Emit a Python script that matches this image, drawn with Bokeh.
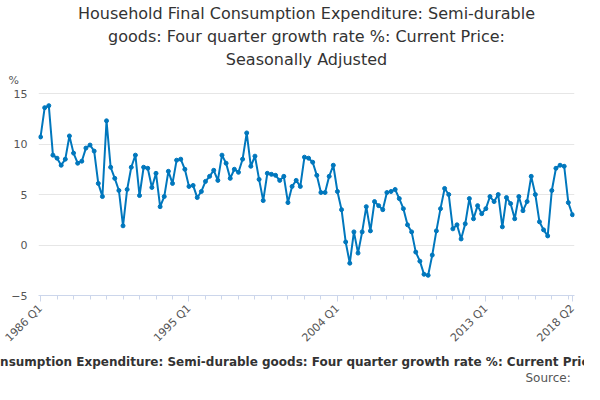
import math
from bokeh.plotting import figure
from bokeh.models import Title, FixedTicker, Range1d
from bokeh.embed import file_html
from bokeh.resources import INLINE

values = [10.7, 13.6, 13.8, 8.9, 8.6, 7.9, 8.5, 10.8, 9.1, 8.1, 8.3, 9.6,
          9.9, 9.3, 6.1, 4.8, 12.3, 7.7, 6.6, 5.4, 1.9, 5.5, 7.7, 8.9,
          4.9, 7.7, 7.6, 5.7, 7.1, 3.8, 4.8, 7.3, 6.1, 8.4, 8.5, 7.5,
          5.8, 5.9, 4.7, 5.3, 6.3, 6.8, 7.4, 6.4, 8.9, 8.1, 6.6, 7.5,
          7.2, 8.5, 11.1, 7.8, 8.8, 6.5, 4.4, 7.1, 7.0, 6.9, 6.4, 6.8,
          4.2, 5.8, 6.4, 5.8, 8.7, 8.6, 8.2, 6.9, 5.2, 5.2, 6.8, 7.9,
          5.3, 3.5, 0.3, -1.8, 1.3, -0.8, 1.3, 3.8, 1.4, 4.3, 3.9, 3.5,
          5.2, 5.3, 5.5, 4.6, 3.6, 2.0, 1.3, -0.7, -1.6, -2.9, -3.0, -1.0,
          1.4, 3.6, 5.6, 5.0, 1.6, 2.0, 0.6, 2.1, 4.6, 2.6, 3.9, 3.1,
          3.6, 4.8, 4.3, 5.0, 1.8, 4.7, 4.1, 2.6, 4.8, 3.4, 4.3, 6.8,
          5.0, 2.3, 1.5, 0.9, 5.4, 7.6, 7.9, 7.8, 4.2, 3.0]
quarters = [f"{1986 + i // 4} Q{i % 4 + 1}" for i in range(len(values))]
tick_labels = ["1986 Q1", "1995 Q1", "2004 Q1", "2013 Q1", "2018 Q2"]
y_ticks = [-5, 0, 5, 10, 15]

xs = list(range(len(values)))
tick_pos = [quarters.index(t) for t in tick_labels]

p = figure(width=584, height=384, output_backend="svg", toolbar_location=None,
           x_range=Range1d(-0.5, len(values) - 0.5), y_range=Range1d(-5, 15.5),
           min_border_left=38, min_border_right=10, min_border_top=4,
           min_border_bottom=0)
p.title = None
p.outline_line_color = None
p.background_fill_color = "white"
p.border_fill_color = "white"

p.line(xs, values, line_color="#0077bd", line_width=2)
p.scatter(xs, values, size=4, color="#0077bd")

p.xaxis.ticker = FixedTicker(ticks=tick_pos,
                             minor_ticks=[quarters.index(f"{y} Q1") for y in range(1987, 2019)])
p.xaxis.major_label_overrides = {pos: lab for pos, lab in zip(tick_pos, tick_labels)}
p.xaxis.major_label_orientation = math.pi / 4
p.xaxis.major_label_text_font = "DejaVu Sans"
p.xaxis.major_label_text_font_size = "11px"
p.xaxis.major_label_text_color = "#555555"
p.xaxis.axis_line_color = "#ccd6eb"
p.xaxis.major_tick_line_color = "#ccd6eb"
p.xaxis.minor_tick_line_color = "#ccd6eb"
p.xaxis.major_tick_out = 6
p.xaxis.minor_tick_out = 4
p.xaxis.major_tick_in = 0
p.xaxis.minor_tick_in = 0
p.xgrid.grid_line_color = None

p.yaxis.ticker = FixedTicker(ticks=y_ticks)
p.yaxis.axis_line_color = None
p.yaxis.major_tick_line_color = None
p.yaxis.minor_tick_line_color = None
p.yaxis.major_label_text_font = "DejaVu Sans"
p.yaxis.major_label_text_font_size = "11px"
p.yaxis.major_label_text_color = "#555555"
p.ygrid.grid_line_color = "#e6e6e6"

p.add_layout(Title(text="%", align="left", text_font="DejaVu Sans",
                   text_font_size="11px", text_color="#555555",
                   text_font_style="normal", offset=-30, standoff=4), "above")
for line in ["Seasonally Adjusted",
             "goods: Four quarter growth rate %: Current Price:",
             "Household Final Consumption Expenditure: Semi-durable"]:
    p.add_layout(Title(text=line, align="center", text_font="DejaVu Sans",
                       text_font_size="16px", text_color="#333333",
                       text_font_style="normal", standoff=2), "above")

p.add_layout(Title(text="Household Final Consumption Expenditure: Semi-durable goods: Four quarter growth rate %: Current Price: Seasonally Adjusted",
                   align="center", text_font="DejaVu Sans", text_font_size="12px",
                   text_color="#333333", text_font_style="bold", standoff=0), "below")
p.add_layout(Title(text="Source: ", align="right", text_font="DejaVu Sans",
                   text_font_size="12px", text_color="#555555",
                   text_font_style="normal", standoff=0), "below")

open("out.html", "w").write(file_html(p, INLINE))
